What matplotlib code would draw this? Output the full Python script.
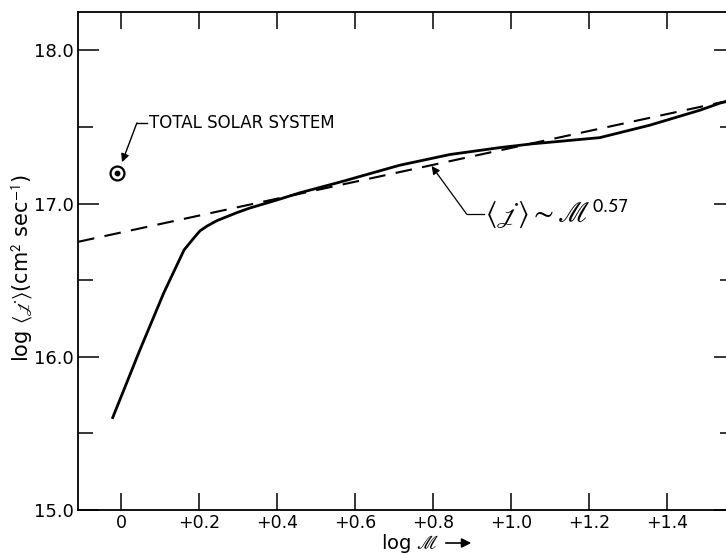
import numpy as np
import matplotlib
matplotlib.use("Agg")
import matplotlib.pyplot as plt

plt.rcParams["font.family"] = ["DejaVu Sans"]
plt.rcParams["mathtext.fontset"] = "stix"

# log M (solar masses) vs log <j> for main-sequence stars
log_m = [-0.021, 0.049, 0.110, 0.162, 0.187, 0.203, 0.221, 0.246, 0.297,
         0.331, 0.400, 0.459, 0.562, 0.715, 0.844, 0.972, 1.056, 1.100,
         1.228, 1.356, 1.485, 1.536, 1.575]
log_j = [15.603, 16.046, 16.417, 16.697, 16.775, 16.822, 16.853, 16.888, 16.940,
         16.971, 17.023, 17.070, 17.140, 17.250, 17.320, 17.365, 17.390, 17.400,
         17.430, 17.511, 17.609, 17.655, 17.68]

# power-law fit <j> ~ M^0.57 (dashed)
fit_m = [-0.11, 1.575]
fit_j = [16.75, 17.68]

# total solar system
sun_m = -0.010
sun_j = 17.20

x_ticks = [0, 0.2, 0.4, 0.6, 0.8, 1.0, 1.2, 1.4]
x_labels = ["0", "+0.2", "+0.4", "+0.6", "+0.8", "+1.0", "+1.2", "+1.4"]
y_ticks = [15.0, 16.0, 17.0, 18.0]
y_labels = ["15.0", "16.0", "17.0", "18.0"]
y_minor = [15.5, 16.5, 17.5]

fig = plt.figure(figsize=(7.26, 5.55), dpi=100)
# axes runs past the right edge, like the cropped scan
ax = fig.add_axes([78 / 726, 45 / 555, 657 / 726, 498 / 555])

ax.plot(log_m, log_j, color="black", lw=2.0, solid_joinstyle="round")
ax.plot(fit_m, fit_j, color="black", lw=1.5, dashes=(8, 5))

ax.plot(sun_m, sun_j, marker="o", ms=10, mfc="white", mec="black", mew=1.6)
ax.plot(sun_m, sun_j, marker="o", ms=3.2, color="black")

ax.set_xlim(-0.11, 1.575)
ax.set_ylim(15.0, 18.25)

ax.set_xticks(x_ticks)
ax.set_xticklabels(x_labels)
ax.set_yticks(y_ticks)
ax.set_yticklabels(y_labels)
ax.set_yticks(y_minor, minor=True)
ax.tick_params(axis="both", which="both", direction="in", width=1.1,
               top=True, right=True, labelsize=13, colors="black")
ax.tick_params(axis="x", which="major", length=12, pad=3, labelsize=12.5)
ax.tick_params(axis="y", which="major", length=15, pad=3)
ax.tick_params(axis="y", which="minor", length=11)
for s in ax.spines.values():
    s.set_linewidth(1.3)

# leader for the solar system point
ax.annotate("", xy=(0.003, 17.27), xytext=(0.041, 17.526),
            arrowprops=dict(arrowstyle="-|>", color="black", lw=1.0,
                            mutation_scale=12, shrinkA=0, shrinkB=0))
ax.plot([0.041, 0.068], [17.526, 17.526], color="black", lw=1.0)
ax.text(0.072, 17.526, "TOTAL SOLAR SYSTEM", fontsize=12, va="center", ha="left")

# leader for the power law label
ax.annotate("", xy=(0.797, 17.245), xytext=(0.887, 16.93),
            arrowprops=dict(arrowstyle="-|>", color="black", lw=0.9,
                            mutation_scale=12, shrinkA=0, shrinkB=0))
ax.plot([0.887, 0.93], [16.93, 16.93], color="black", lw=0.9)
ax.text(0.935, 16.93, r"$\langle\mathscr{j}\rangle \sim \mathscr{M}^{\mathsf{0.57}}$",
        fontsize=21, va="center", ha="left")

fig.text(22 / 726, 1 - 268 / 555,
         r"log $\langle\mathscr{j}\rangle$(cm$^{\mathsf{2}}$ sec$^{\mathsf{-1}}$)",
         rotation=90, fontsize=15, ha="center", va="center")
fig.text(381 / 726, 1 - 549 / 555, r"log $\mathscr{M}$", fontsize=14,
         ha="left", va="baseline")
fig.add_artist(matplotlib.patches.FancyArrowPatch(
    (443 / 726, 1 - 543 / 555), (474 / 726, 1 - 543 / 555),
    transform=fig.transFigure, arrowstyle="-|>", mutation_scale=14,
    color="black", lw=1.2))

fig.savefig("out.png", dpi=100)
